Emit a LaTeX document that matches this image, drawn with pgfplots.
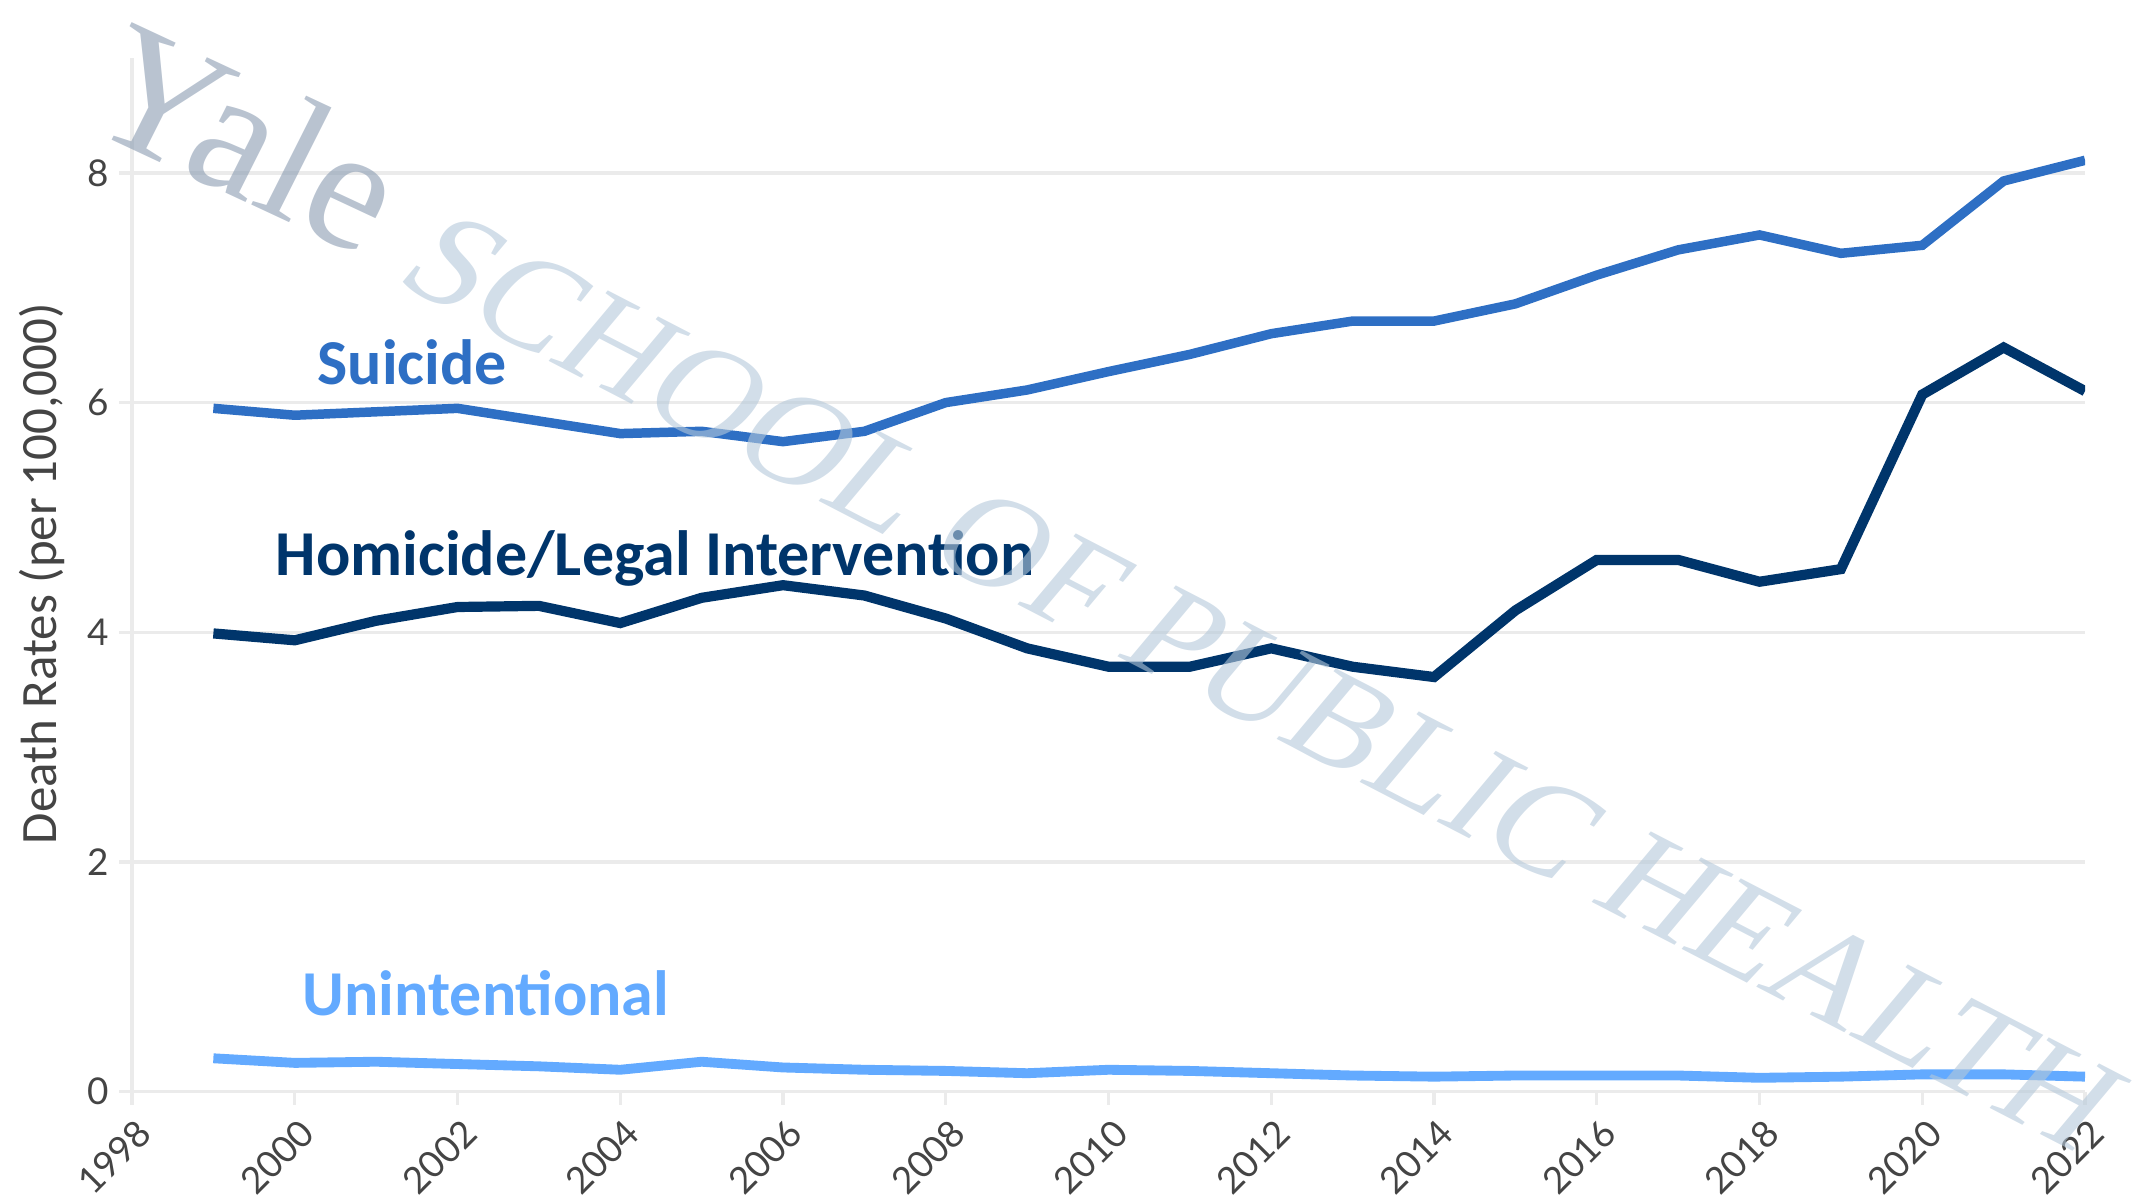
\documentclass[border=0pt]{standalone}
\usepackage{fontspec}
\setmainfont{Carlito}
\newfontfamily\latofont{Lato}
\newfontfamily\wmfont{Liberation Serif}
\usepackage{pgfplots}
\pgfplotsset{compat=1.18}
\definecolor{suic}{HTML}{2E6FC4}
\definecolor{homi}{HTML}{00356B}
\definecolor{unin}{HTML}{63AAFF}
\definecolor{gridc}{HTML}{EBEBEB}
\definecolor{tickc}{HTML}{444444}
\definecolor{yalec}{HTML}{8A9BB1}
\definecolor{schc}{HTML}{B4C8DA}
\begin{document}
\begin{tikzpicture}
\useasboundingbox (0,0) rectangle (21.34,12.02);
\clip (0,0) rectangle (21.34,12.02);
\begin{axis}[
  at={(1.32cm,1.104cm)}, anchor=south west,
  width=19.53cm, height=10.335cm, scale only axis,
  xmin=1998, xmax=2022, ymin=0, ymax=9,
  xtick={1998,2000,...,2022}, ytick={0,2,4,6,8},
  axis x line*=bottom, axis y line*=left,
  axis line style={gridc, line width=0.9pt},
  ymajorgrids, grid style={gridc, line width=0.9pt},
  tick align=outside, major tick length=0.13cm,
  tick style={gridc, line width=0.9pt},
  /pgf/number format/assume math mode=true,
  /pgf/number format/set thousands separator={},
  xticklabel style={xshift=0.13cm, yshift=-0.22cm, rotate=45, anchor=east, inner sep=0pt,
    font=\latofont\fontsize{10.5}{12}\selectfont, text=tickc},
  yticklabel style={xshift=-0.09cm, inner sep=0pt,
    font=\latofont\fontsize{10.5}{12}\selectfont, text=tickc},
  ylabel={Death Rates (per 100,000)},
  ylabel style={at={(axis description cs:-0.0461,0.501)}, anchor=center,
    font=\fontsize{14.5}{16}\selectfont, text=tickc},
]
\addplot[suic, line width=2.7pt] coordinates {
(1999,5.95) (2000,5.89) (2001,5.92) (2002,5.95) (2003,5.84) (2004,5.73)
(2005,5.75) (2006,5.66) (2007,5.75) (2008,6.00) (2009,6.11) (2010,6.27)
(2011,6.42) (2012,6.60) (2013,6.71) (2014,6.71) (2015,6.86) (2016,7.11)
(2017,7.33) (2018,7.46) (2019,7.30) (2020,7.37) (2021,7.93) (2022,8.11)};
\addplot[homi, line width=2.9pt] coordinates {
(1999,3.99) (2000,3.93) (2001,4.10) (2002,4.22) (2003,4.23) (2004,4.08)
(2005,4.30) (2006,4.41) (2007,4.32) (2008,4.12) (2009,3.86) (2010,3.70)
(2011,3.70) (2012,3.86) (2013,3.70) (2014,3.61) (2015,4.19) (2016,4.63)
(2017,4.63) (2018,4.44) (2019,4.55) (2020,6.07) (2021,6.48) (2022,6.10)};
\addplot[unin, line width=2.8pt] coordinates {
(1999,0.29) (2000,0.25) (2001,0.26) (2002,0.24) (2003,0.22) (2004,0.19)
(2005,0.26) (2006,0.21) (2007,0.19) (2008,0.18) (2009,0.16) (2010,0.19)
(2011,0.18) (2012,0.16) (2013,0.14) (2014,0.13) (2015,0.14) (2016,0.14)
(2017,0.14) (2018,0.12) (2019,0.13) (2020,0.15) (2021,0.15) (2022,0.13)};
\node[anchor=base west, inner sep=0pt, text=suic, font=\bfseries\fontsize{18.2}{20}\selectfont]
  at (axis cs:2000.27,6.16) {Suicide};
\node[anchor=base west, inner sep=0pt, text=homi, font=\bfseries\fontsize{18.2}{20}\selectfont]
  at (axis cs:1999.76,4.49) {Homicide/Legal Intervention};
\node[anchor=base west, inner sep=0pt, text=unin, font=\bfseries\fontsize{18.2}{20}\selectfont]
  at (axis cs:2000.09,0.66) {Unintentional};
\end{axis}
\begin{scope}[shift={(0.78,10.78)}, cm={0.906,-0.423,0.45,0.893,(0,0)}]
\node[transform shape, anchor=base west, inner sep=0pt, text=yalec, opacity=0.6,
  font=\wmfont\fontsize{50}{50}\selectfont] at (0,0) {Yale};
\end{scope}
\begin{scope}[shift={(3.917,9.215)}, cm={0.888,-0.460,0.643,0.766,(0,0)}]
\node[transform shape, anchor=base west, inner sep=0pt, text=schc, opacity=0.6,
  font=\wmfont\fontsize{40}{40}\selectfont] at (0,0) {SCHOOL OF PUBLIC HEALTH};
\end{scope}
\end{tikzpicture}
\end{document}
